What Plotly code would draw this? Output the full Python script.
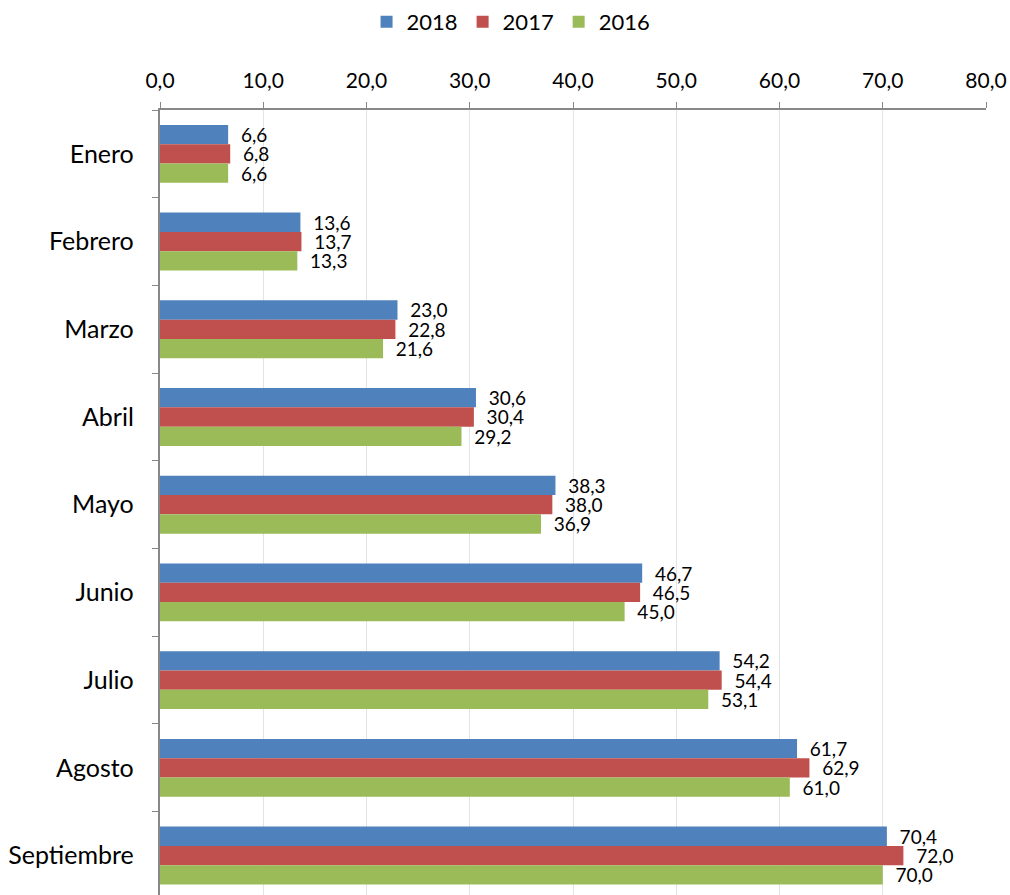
import plotly.graph_objects as go

months = ["Enero", "Febrero", "Marzo", "Abril", "Mayo", "Junio", "Julio", "Agosto", "Septiembre"]
v2018 = [6.6, 13.6, 23.0, 30.6, 38.3, 46.7, 54.2, 61.7, 70.4]
v2017 = [6.8, 13.7, 22.8, 30.4, 38.0, 46.5, 54.4, 62.9, 72.0]
v2016 = [6.6, 13.3, 21.6, 29.2, 36.9, 45.0, 53.1, 61.0, 70.0]
series = [("2018", v2018, "#4F81BD"), ("2017", v2017, "#C0504D"), ("2016", v2016, "#9BBB59")]

FONT = "Lato"
fig = go.Figure()
for name, vals, color in series:
    fig.add_trace(go.Bar(
        y=months, x=vals, name=name, orientation="h",
        marker=dict(color=color, line=dict(width=0)),
        texttemplate="  %{x:.1f}", textposition="outside",
        constraintext="none",
        textfont=dict(family=FONT, size=19, color="#000000"),
        cliponaxis=False,
    ))

fig.update_layout(
    width=1010, height=895,
    margin=dict(l=160, r=24, t=110, b=0),
    paper_bgcolor="white", plot_bgcolor="white",
    separators=",.",
    barmode="group", bargap=0.34, bargroupgap=0,
    font=dict(family=FONT, color="#000000"),
    legend=dict(orientation="h", xref="container", yref="container",
                x=0.506, xanchor="center", y=1 - 22 / 895, yanchor="middle",
                font=dict(family=FONT, size=22), itemwidth=30,
                traceorder="normal"),
    xaxis=dict(side="top", range=[0, 80], dtick=10, tickformat=".1f",
               automargin=False, ticklabeloverflow="allow",
               showgrid=True, gridcolor="#E3E3E3", gridwidth=1,
               showline=True, linecolor="#888888", linewidth=2,
               ticks="outside", ticklen=6, tickcolor="#888888",
               ticklabelstandoff=6,
               tickfont=dict(family=FONT, size=21), zeroline=False),
    yaxis=dict(categoryorder="array", categoryarray=months, automargin=False,
               range=[8.45, -0.5], showline=True, linecolor="#888888", linewidth=2,
               ticks="outside", tickson="boundaries", ticklen=6, tickcolor="#888888",
               tickfont=dict(family=FONT, size=25), showgrid=False, ticksuffix="   "),
)
fig.write_html("out.html", config={"displayModeBar": False},
               post_script="document.body.style.margin='0px';")
